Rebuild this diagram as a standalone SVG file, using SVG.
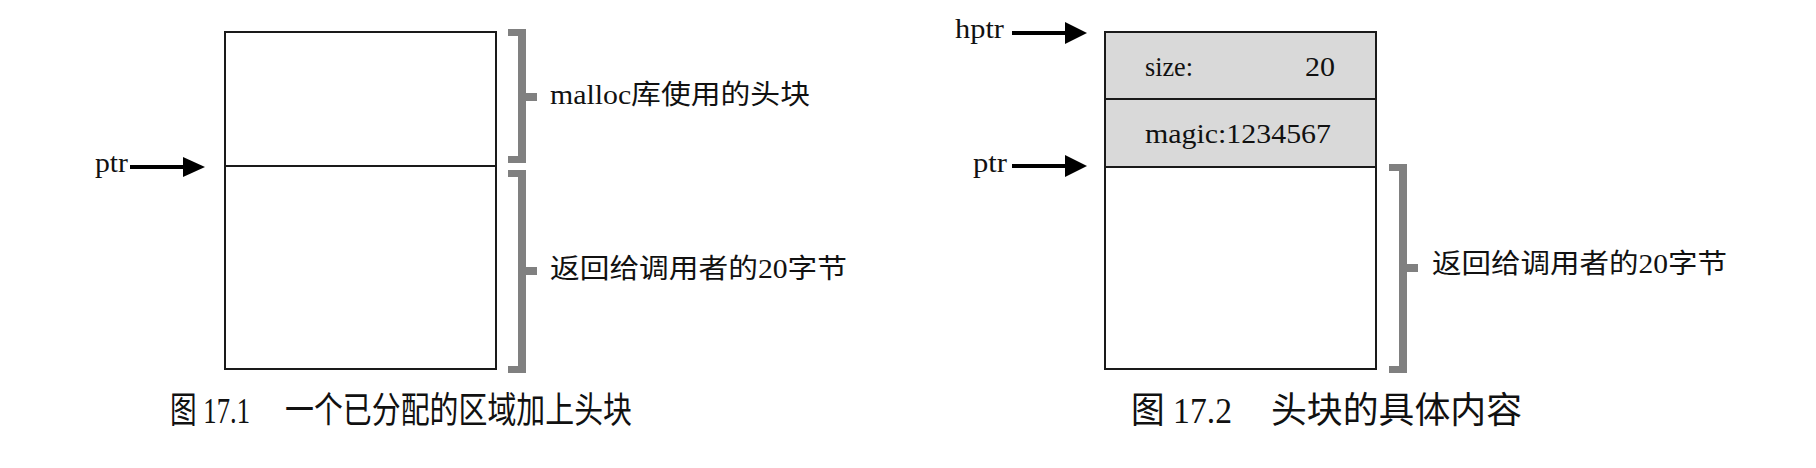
<svg xmlns="http://www.w3.org/2000/svg" width="1816" height="468" viewBox="0 0 1816 468">
<style>
.box{fill:#fff;stroke:#1a1a1a;stroke-width:2}
.hdr{fill:#d9d9d9;stroke:#1a1a1a;stroke-width:2}
.t{font-family:"Liberation Serif","Noto Sans CJK SC",serif;font-size:27px;fill:#111}
.cap{font-family:"Liberation Serif","Noto Sans CJK SC",serif;font-size:36px;fill:#111}
.br{fill:#808080}
.ar{stroke:#000;stroke-width:4;fill:none}
.ah{fill:#000}
</style>
<rect width="1816" height="468" fill="#fff"/>
<g id="fig1-block">
<rect class="box" x="225" y="32" width="271" height="337"/>
<line x1="225" y1="166" x2="496" y2="166" stroke="#1a1a1a" stroke-width="2"/>
</g>
<g id="fig1-bracket-header">
<rect class="br" x="518" y="29" width="8" height="134"/>
<rect class="br" x="508" y="29" width="18" height="7"/>
<rect class="br" x="508" y="156" width="18" height="7"/>
<rect class="br" x="526" y="93" width="11" height="8"/>
<text class="t" x="550" y="104" textLength="260" lengthAdjust="spacingAndGlyphs">malloc库使用的头块</text>
</g>
<g id="fig1-bracket-data">
<rect class="br" x="518" y="170" width="8" height="203"/>
<rect class="br" x="508" y="170" width="18" height="7"/>
<rect class="br" x="508" y="366" width="18" height="7"/>
<rect class="br" x="526" y="267" width="11" height="8"/>
<text class="t" x="550" y="278" textLength="297" lengthAdjust="spacingAndGlyphs">返回给调用者的20字节</text>
</g>
<g id="fig1-ptr">
<text class="t" x="95" y="172" textLength="33" lengthAdjust="spacingAndGlyphs">ptr</text>
</g>
<g id="fig1-caption">
<text class="cap" x="170" y="423" textLength="80" lengthAdjust="spacingAndGlyphs">图 17.1</text>
<text class="cap" x="285" y="423" textLength="347" lengthAdjust="spacingAndGlyphs">一个已分配的区域加上头块</text>
</g>
<g id="fig2-block">
<rect class="hdr" x="1105" y="32" width="271" height="67"/>
<rect class="hdr" x="1105" y="99" width="271" height="68"/>
<rect class="box" x="1105" y="167" width="271" height="202"/>
<text class="t" x="1145" y="76" textLength="48" lengthAdjust="spacingAndGlyphs">size:</text>
<text class="t" x="1305" y="76" textLength="30" lengthAdjust="spacingAndGlyphs">20</text>
<text class="t" x="1145" y="143" textLength="186" lengthAdjust="spacingAndGlyphs">magic:1234567</text>
</g>
<g id="fig2-bracket-data">
<rect class="br" x="1399" y="164" width="8" height="209"/>
<rect class="br" x="1389" y="164" width="18" height="7"/>
<rect class="br" x="1389" y="366" width="18" height="7"/>
<rect class="br" x="1407" y="264" width="11" height="8"/>
<text class="t" x="1432" y="273" textLength="295" lengthAdjust="spacingAndGlyphs">返回给调用者的20字节</text>
</g>
<g id="fig2-hptr">
<text class="t" x="955" y="38" textLength="49" lengthAdjust="spacingAndGlyphs">hptr</text>
</g>
<g id="fig2-ptr">
<text class="t" x="973" y="172" textLength="34" lengthAdjust="spacingAndGlyphs">ptr</text>
</g>
<g id="fig2-caption">
<text class="cap" x="1131" y="423" textLength="101" lengthAdjust="spacingAndGlyphs">图 17.2</text>
<text class="cap" x="1271" y="423" textLength="251" lengthAdjust="spacingAndGlyphs">头块的具体内容</text>
</g>
<g id="connectors">
<line class="ar" x1="130" y1="167" x2="186" y2="167"/>
<polygon class="ah" points="183,157 205,167 183,177"/>
<line class="ar" x1="1012" y1="33" x2="1068" y2="33"/>
<polygon class="ah" points="1065,22 1087,33 1065,44"/>
<line class="ar" x1="1012" y1="166" x2="1068" y2="166"/>
<polygon class="ah" points="1065,155 1087,166 1065,177"/>
</g>
</svg>
